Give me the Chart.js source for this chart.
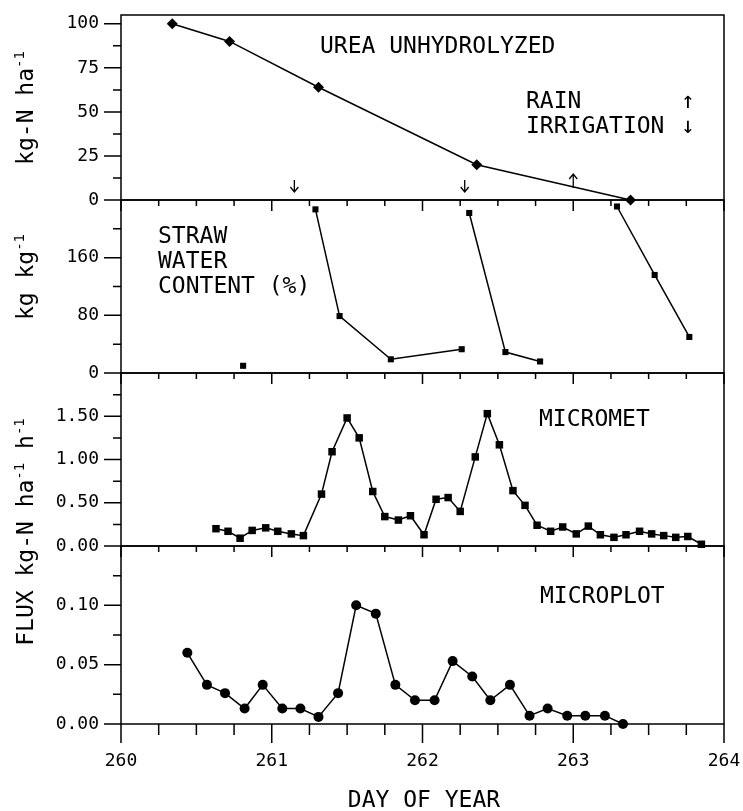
<!DOCTYPE html>
<html>
<head>
<meta charset="utf-8">
<script src="https://cdn.jsdelivr.net/npm/chart.js@4.4.0/dist/chart.umd.min.js"></script>
<style>
  html, body { margin: 0; padding: 0; background: #fff; }
  #wrap { position: relative; width: 743px; height: 811px; overflow: hidden; }
  canvas { position: absolute; left: 0; top: 0; }
  .lbl { position: absolute; font-family: 'DejaVu Sans Mono', monospace; font-size: 23px; line-height: 22px; color: #000; white-space: pre; }
  .ytitle { transform: translate(-50%, -50%) rotate(-90deg); }
  .center { transform: translate(-50%, 0); }
  sup { font-size: 14px; vertical-align: 9px; line-height: 0; }
</style>
</head>
<body>
<div id="wrap">
  <canvas id="c1" width="743" height="811"></canvas>
  <canvas id="c2" width="743" height="811"></canvas>
  <canvas id="c3" width="743" height="811"></canvas>
  <canvas id="c4" width="743" height="811"></canvas>

  <div class="lbl ytitle" style="left:25px; top:108px;">kg-N ha<sup>-1</sup></div>
  <div class="lbl ytitle" style="left:25px; top:277px;">kg kg<sup>-1</sup></div>
  <div class="lbl ytitle" style="left:25px; top:532px;">FLUX kg-N ha<sup>-1</sup> h<sup>-1</sup></div>

  <div class="lbl" style="left:320px; top:34px;">UREA UNHYDROLYZED</div>
  <div class="lbl" style="left:526px; top:89px;">RAIN</div>
  <div class="lbl" style="left:526px; top:114px;">IRRIGATION</div>
  <div class="lbl" style="left:681px; top:89px;">↑</div>
  <div class="lbl" style="left:681px; top:114px;">↓</div>

  <div class="lbl" style="left:158px; top:224px;">STRAW</div>
  <div class="lbl" style="left:158px; top:249px;">WATER</div>
  <div class="lbl" style="left:158px; top:274px;">CONTENT (%)</div>

  <div class="lbl" style="left:539px; top:407px;">MICROMET</div>
  <div class="lbl" style="left:540px; top:584px;">MICROPLOT</div>

  <div class="lbl center" style="left:424px; top:788px;">DAY OF YEAR</div>
</div>

<script>
// x axis (day of year)
const dayLabels = [260, 261, 262, 263, 264];
const dayMinor = [260.25, 260.5, 260.75, 261.25, 261.5, 261.75, 262.25, 262.5, 262.75, 263.25, 263.5, 263.75];

// urea unhydrolyzed, kg-N/ha
const ureaDays = [260.34, 260.72, 261.31, 262.36, 263.38];
const ureaKg = [100, 90, 64, 20, 0];
const ureaTicks = [0, 25, 50, 75, 100];
const ureaMinor = [12.5, 37.5, 62.5, 87.5];
const irrigationDays = [261.15, 262.28];
const rainDays = [263.0];

// straw water content, null = break in the line
const strawDays = [260.81, null, 261.29, 261.45, 261.79, 262.26, null, 262.31, 262.55, 262.78, null, 263.29, 263.54, 263.77];
const strawPct = [10, null, 227, 79, 19, 33, null, 222, 29, 16, null, 231, 136, 50];
const strawTicks = [0, 80, 160];
const strawMinor = [40, 120, 200];

// micromet flux
const micrometDays = [260.63, 260.71, 260.79, 260.87, 260.96, 261.04, 261.13, 261.21, 261.33, 261.40,
  261.50, 261.58, 261.67, 261.75, 261.84, 261.92, 262.01, 262.09, 262.17, 262.25,
  262.35, 262.43, 262.51, 262.60, 262.68, 262.76, 262.85, 262.93, 263.02, 263.10,
  263.18, 263.27, 263.35, 263.44, 263.52, 263.60, 263.68, 263.76, 263.85];
const micrometFlux = [0.20, 0.17, 0.09, 0.18, 0.21, 0.17, 0.14, 0.12, 0.60, 1.09,
  1.48, 1.25, 0.63, 0.34, 0.30, 0.35, 0.13, 0.54, 0.56, 0.40,
  1.03, 1.53, 1.17, 0.64, 0.47, 0.24, 0.17, 0.22, 0.14, 0.23,
  0.13, 0.10, 0.13, 0.17, 0.14, 0.12, 0.10, 0.11, 0.02];
const micrometTicks = [0, 0.5, 1.0, 1.5];
const micrometMinor = [0.25, 0.75, 1.25, 1.75];

// microplot flux
const microplotDays = [260.44, 260.57, 260.69, 260.82, 260.94, 261.07, 261.19, 261.31, 261.44, 261.56,
  261.69, 261.82, 261.95, 262.08, 262.20, 262.33, 262.45, 262.58, 262.71, 262.83,
  262.96, 263.08, 263.21, 263.33];
const microplotFlux = [0.060, 0.033, 0.026, 0.013, 0.033, 0.013, 0.013, 0.006, 0.026, 0.100,
  0.093, 0.033, 0.020, 0.020, 0.053, 0.040, 0.020, 0.033, 0.007, 0.013,
  0.007, 0.007, 0.007, 0.000];
const microplotTicks = [0, 0.05, 0.10];
const microplotMinor = [0.025, 0.075, 0.125];

const FONT = 'DejaVu Sans Mono';
const W = 743, H = 811, LEFT = 121, RIGHT = 724;

const frame = {
  id: 'frame',
  beforeDatasetsDraw(chart, args, o) {
    const { ctx, chartArea: a, scales: { x, y } } = chart;
    ctx.save();
    ctx.strokeStyle = '#000';
    ctx.lineWidth = 1.5;
    ctx.strokeRect(a.left, a.top, a.right - a.left, a.bottom - a.top);
    ctx.beginPath();
    dayLabels.forEach(d => {
      const px = x.getPixelForValue(d);
      ctx.moveTo(px, a.bottom);
      ctx.lineTo(px, a.bottom + o.xMajor);
    });
    dayMinor.forEach(d => {
      const px = x.getPixelForValue(d);
      ctx.moveTo(px, a.bottom);
      ctx.lineTo(px, a.bottom + o.xMinor);
    });
    o.yMajor.forEach(v => {
      const py = y.getPixelForValue(v);
      ctx.moveTo(a.left, py);
      ctx.lineTo(a.left - 17, py);
    });
    o.yMinor.forEach(v => {
      const py = y.getPixelForValue(v);
      ctx.moveTo(a.left, py);
      ctx.lineTo(a.left - 8, py);
    });
    ctx.stroke();
    ctx.restore();
  }
};

// rain / irrigation arrows along the bottom of the urea panel
const arrows = {
  id: 'arrows',
  afterDatasetsDraw(chart) {
    const { ctx, chartArea: a, scales: { x } } = chart;
    ctx.save();
    ctx.strokeStyle = '#000';
    ctx.lineWidth = 1.3;
    ctx.beginPath();
    irrigationDays.forEach(d => {
      const px = x.getPixelForValue(d);
      ctx.moveTo(px, a.bottom - 20);
      ctx.lineTo(px, a.bottom - 8);
      ctx.moveTo(px - 4, a.bottom - 13);
      ctx.lineTo(px, a.bottom - 8);
      ctx.lineTo(px + 4, a.bottom - 13);
    });
    rainDays.forEach(d => {
      const px = x.getPixelForValue(d);
      ctx.moveTo(px, a.bottom - 12);
      ctx.lineTo(px, a.bottom - 26);
      ctx.moveTo(px - 4, a.bottom - 21);
      ctx.lineTo(px, a.bottom - 26);
      ctx.lineTo(px + 4, a.bottom - 21);
    });
    ctx.stroke();
    ctx.restore();
  }
};

function series(days, vals, style, radius) {
  return {
    data: days.map((d, i) => ({ x: d, y: vals[i] })),
    borderColor: '#000',
    borderWidth: 1.5,
    backgroundColor: '#000',
    pointBackgroundColor: '#000',
    pointBorderColor: '#000',
    pointBorderWidth: 0,
    pointStyle: style,
    pointRadius: radius,
    tension: 0,
    spanGaps: false,
    clip: false
  };
}

function noPad(s) {
  s.paddingLeft = 0;
  s.paddingRight = 0;
  s.paddingTop = 0;
  s.paddingBottom = 0;
}

function panel(id, top, bottom, yMax, yTicks, yMinor, fmt, dataset, extra) {
  const showX = !!extra.showX;
  return new Chart(document.getElementById(id), {
    type: 'line',
    data: { datasets: [dataset] },
    options: {
      responsive: false,
      animation: false,
      devicePixelRatio: 1,
      layout: { padding: { top: top, bottom: showX ? H - bottom - 60 : H - bottom, left: 0, right: W - RIGHT } },
      plugins: {
        legend: { display: false },
        tooltip: { enabled: false },
        frame: { xMajor: extra.xMajor, xMinor: extra.xMinor, yMajor: yTicks, yMinor: yMinor }
      },
      scales: {
        x: {
          type: 'linear',
          min: 260,
          max: 264,
          display: showX,
          grid: { display: false, drawTicks: false },
          border: { display: false },
          afterBuildTicks: s => { s.ticks = dayLabels.map(v => ({ value: v })); },
          afterFit: s => { s.height = showX ? 60 : 0; noPad(s); },
          ticks: { color: '#000', font: { family: FONT, size: 18 }, padding: 27, maxRotation: 0, callback: v => String(v) }
        },
        y: {
          min: 0,
          max: yMax,
          grid: { display: false, drawTicks: false },
          border: { display: false },
          afterBuildTicks: s => { s.ticks = yTicks.map(v => ({ value: v })); },
          afterFit: s => { s.width = LEFT; noPad(s); },
          ticks: { color: '#000', font: { family: FONT, size: 18 }, padding: 22, callback: fmt }
        }
      }
    },
    plugins: extra.arrows ? [frame, arrows] : [frame]
  });
}

panel('c4', 546, 724, 0.15, microplotTicks, microplotMinor, v => v.toFixed(2),
  series(microplotDays, microplotFlux, 'circle', 5), { showX: true, xMajor: 19, xMinor: 11 });
panel('c3', 373, 546, 2.0, micrometTicks, micrometMinor, v => v.toFixed(2),
  series(micrometDays, micrometFlux, 'rect', 5.3), { xMajor: 11, xMinor: 6 });
panel('c2', 200, 373, 240, strawTicks, strawMinor, v => String(v),
  series(strawDays, strawPct, 'rect', 4.3), { xMajor: 11, xMinor: 6 });
panel('c1', 15, 200, 105, ureaTicks, ureaMinor, v => String(v),
  series(ureaDays, ureaKg, 'rectRot', 5.5), { xMajor: 11, xMinor: 6, arrows: true });
</script>
</body>
</html>
